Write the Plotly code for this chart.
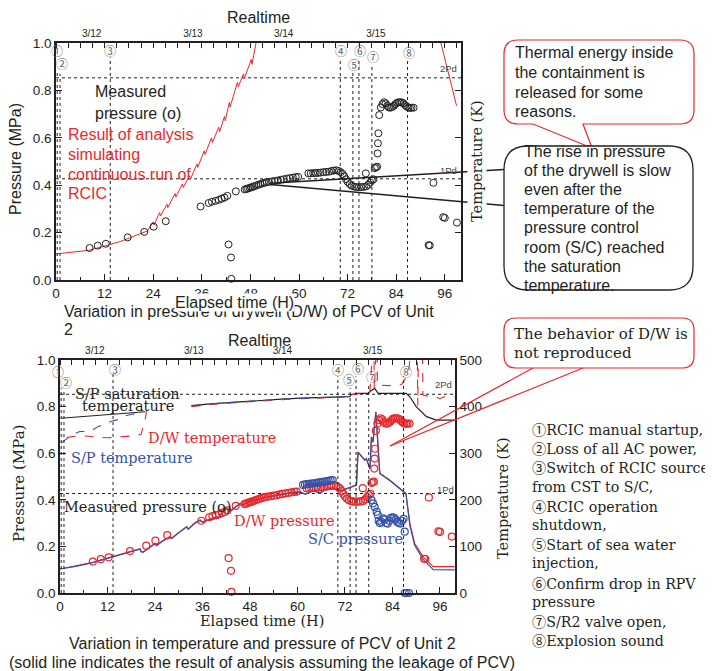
import plotly.graph_objects as go

# page body keeps a default 8px margin, so the figure occupies 8..713 x 8..671
OFF = 8
W, H = 713 - OFF, 671 - OFF


def X(p):
    return (p - OFF) / W


def Y(p):
    return 1 - (p - OFF) / H


RED = "#e8282c"
BLUE = "#3552a8"
INK = "#231f20"
GRAY = "#666666"
SANS = "Liberation Sans, Arial, sans-serif"
SERIF = "DejaVu Serif, serif"
CJK = "Noto Sans CJK JP"
CIRC = "Noto Sans CJK JP, DejaVu Sans, sans-serif"

# ---------------- data ----------------
event_labels = ["①", "②", "③", "④", "⑤", "⑥", "⑦", "⑧"]
event_hours = [0.3, 1.0, 13.4, 70.2, 73.3, 74.8, 78.0, 86.8]
event_tops = [0.88, 0.87, 0.94, 0.93, 0.88, 0.93, 0.9, 0.93]
pd_levels = [0.427, 0.853]
pd_labels = ["1Pd", "2Pd"]
date_labels = ["3/12", "3/13", "3/14", "3/15"]
date_hours = [8.8, 33.8, 56.2, 79.0]
elapsed_ticks = [0, 12, 24, 36, 48, 60, 72, 84, 96]
pressure_ticks = [0, 0.2, 0.4, 0.6, 0.8, 1.0]
temp_ticks = [0, 100, 200, 300, 400, 500]

# analysis: continuous RCIC run (top chart)
rcic_h = [0, 4, 8, 12, 16, 20, 22.6, 24.0, 24.2, 25.6, 25.8, 27.4, 27.6, 29.4, 29.6, 31.2, 31.4,
          33.0, 33.2, 34.8, 35.0, 36.6, 36.8, 38.4, 38.6, 40.2, 40.4, 41.6, 41.8, 42.8, 43.0,
          44.8, 45.0, 46.3, 46.5, 48.2, 48.4, 49.6, None, 94.9, 98.9]
rcic_p = [0.11, 0.117, 0.125, 0.143, 0.163, 0.19, 0.207, 0.245, 0.232, 0.285, 0.27, 0.32, 0.305,
          0.365, 0.35, 0.405, 0.39, 0.44, 0.425, 0.49, 0.475, 0.545, 0.53, 0.6, 0.58, 0.645, 0.625,
          0.69, 0.672, 0.75, 0.73, 0.835, 0.815, 0.87, 0.85, 0.93, 0.91, 1.02, None, 1.01, 0.735]

# measured D/W pressure
dw_h = [8.3, 10.3, 12.3, 17.7, 21.8, 24.1, 27.1, 35.7, 37.7, 38.5,
        39.4, 40.2, 40.9, 41.6, 42.3, 42.6, 43.2, 43.3, 44.4, 46.6,
        47.0, 47.4, 47.8, 48.2, 48.6, 49.0, 49.5, 50.0, 50.5, 51.0,
        51.5, 52.0, 52.6, 53.3, 54.0, 54.8, 55.5, 56.2, 57.0, 57.8,
        58.5, 59.2, 59.8, 62.3, 62.9, 63.5, 64.1, 64.7, 65.3, 66.0,
        66.7, 67.4, 68.0, 68.6, 69.2, 69.8, 70.3, 70.8, 71.2, 71.6,
        72.0, 72.5, 73.0, 73.6, 74.2, 74.8, 75.4, 76.0, 76.5, 76.6,
        77.1, 77.6, 78.0, 78.4, 78.7, 79.0, 79.3, 79.4, 79.5, 79.6,
        79.8, 80.2, 80.6, 81.0, 81.4, 81.8, 82.2, 82.6, 83.0, 83.4,
        83.8, 84.2, 84.6, 85.0, 85.4, 85.8, 86.2, 86.6, 87.0, 87.4,
        87.8, 88.3, 92.0, 92.3, 93.2, 95.6, 96.0, 99.0]
dw_p = [0.135, 0.145, 0.153, 0.18, 0.203, 0.225, 0.248, 0.31, 0.325, 0.33,
        0.334, 0.338, 0.343, 0.348, 0.355, 0.15, 0.095, 0.005, 0.374, 0.382,
        0.384, 0.386, 0.389, 0.391, 0.393, 0.396, 0.399, 0.402, 0.405, 0.408,
        0.41, 0.413, 0.414, 0.416, 0.418, 0.42, 0.423, 0.425, 0.428, 0.43,
        0.432, 0.434, 0.435, 0.45, 0.45, 0.451, 0.451, 0.452, 0.453, 0.455,
        0.456, 0.457, 0.46, 0.462, 0.463, 0.46, 0.455, 0.447, 0.437, 0.425,
        0.414, 0.405, 0.398, 0.394, 0.392, 0.392, 0.392, 0.393, 0.45, 0.395,
        0.402, 0.412, 0.42, 0.425, 0.472, 0.476, 0.478, 0.534, 0.577, 0.619,
        0.696, 0.728, 0.742, 0.75, 0.745, 0.735, 0.728, 0.727, 0.73, 0.735,
        0.742, 0.748, 0.75, 0.75, 0.749, 0.745, 0.738, 0.732, 0.728, 0.726,
        0.727, 0.727, 0.147, 0.146, 0.41, 0.265, 0.262, 0.242]

# measured S/C pressure
sc_h = [61.4, 61.9, 62.4, 62.9, 63.4, 63.9, 64.4, 64.9, 65.4, 65.9, 66.4, 66.9, 67.4, 67.9,
        68.4, 68.9, 78.7, 79.1, 79.5, 80.0, 80.3, 80.5, 80.8, 81.2, 81.6, 82.0, 82.4, 82.8,
        83.2, 83.6, 84.0, 84.4, 84.8, 85.2, 85.6, 86.0, 86.4, 86.8, 87.1, 87.1, 87.6, 88.2]
sc_p = [0.464, 0.466, 0.467, 0.468, 0.469, 0.47, 0.472, 0.473, 0.475, 0.476, 0.477, 0.478, 0.48,
        0.481, 0.483, 0.485, 0.399, 0.385, 0.37, 0.349, 0.335, 0.31, 0.3, 0.305, 0.32, 0.315,
        0.3, 0.298, 0.31, 0.322, 0.325, 0.322, 0.315, 0.305, 0.3, 0.298, 0.31, 0.318, 0.263,
        0.0, 0.0, 0.0]

# analysis assuming PCV leakage (bottom chart)
ana_h = [0, 4, 8, 12, 16, 18, 20.2, 20.5, 21.0, 22.5, 24.0, 24.4, 26.0, 27.8, 28.2, 30.0, 32.0,
         32.4, 34.0, 35.4, 36.0, 38.0, 39.6, 40.0, 41.0, 42.1, 43.0, 45.5, 46.0, 48.0, 50.0, 52.2,
         54.0, 56.0, 58.0, 60.6, 62.0, 64.0, 65.7, 67.0, 69.0, 71.0, 73.2, 74.9, 75.3, 76.2, 77.0,
         77.4, 78.3, 78.7, 79.1, 79.8, 80.8, 83.3, 85.9, 87.4, 88.4, 89.6, 91.7, 94.3, 99.7]
ana_dw = [0.103, 0.115, 0.13, 0.15, 0.17, 0.178, 0.19, 0.178, 0.176, 0.195,
          0.213, 0.205, 0.225, 0.242, 0.235, 0.26, 0.285, 0.275, 0.3, 0.313,
          0.305, 0.318, 0.328, 0.322, 0.345, 0.364, 0.352, 0.385, 0.378, 0.395,
          0.405, 0.413, 0.418, 0.425, 0.43, 0.435, 0.425, 0.44, 0.43, 0.445,
          0.449, 0.44, 0.452, 0.464, 0.606, 0.585, 0.571, 0.578, 0.535, 0.671,
          0.649, 0.778, 0.514, 0.485, 0.449, 0.428, 0.299, 0.213, 0.156, 0.113, 0.113]
ana_sc = [0.103, 0.114, 0.129, 0.149, 0.168, 0.176, 0.188, 0.176, 0.175, 0.193,
          0.211, 0.203, 0.223, 0.24, 0.233, 0.258, 0.283, 0.273, 0.298, 0.311,
          0.303, 0.316, 0.326, 0.32, 0.343, 0.362, 0.35, 0.383, 0.376, 0.393,
          0.403, 0.411, 0.416, 0.423, 0.428, 0.433, 0.423, 0.438, 0.428, 0.443,
          0.447, 0.438, 0.45, 0.462, 0.604, 0.583, 0.569, 0.576, 0.533, 0.669,
          0.647, 0.776, 0.512, 0.483, 0.447, 0.426, 0.29, 0.205, 0.145, 0.1, 0.099]

# temperatures (K)
sat_h = [0.2, 5, 10, 15, 21.5, None, 33.2, 38, 45.5, 50, 56, 60.6, 66, 70, 73.2, 73.6, 75.3,
         77.9, 78.4, 79.5, 80.4, 84, 87.5, 88.5, 90, 92.6, 95.1, 99.7]
sat_t = [375, 378, 381, 385, 389, None, 402, 406, 410, 413, 416, 418, 419, 420, 421.5, 426,
         428.5, 428.5, 433, 439, 428.5, 428.5, 428.5, 420, 400, 378.5, 371, 371]
dwt_h = [1.7, 3.0, 4.5, 6.0, 8.0, 10.0, 12.0, 14.0, 16.0, 18.0, 19.4, 20.5, 21.5, 21.9, None,
         33.2, 38, 45.5, 50, 56, 60.6, 66, 70, 73.2, 73.6, 75.3, 77.9, 78.3, 79.3, 79.4, 80.1,
         80.2, 81.2, 83.0, 85.0, 86.3, 88.0, 89.2, 90.2, 90.4, 90.6, 91.5, 91.7, 92.6, 95.0,
         96.0, 97.0, 99.7]
dwt_t = [334, 336, 337, 337, 336, 335, 333, 334, 335, 336, 338, 341, 372, 392, None,
         400, 404.5, 409, 412, 415, 417, 418, 419, 420.5, 425, 427.5, 427.5, 432, 560, 436, 560,
         446, 446, 445, 446, 448, 470, 560, 560, 402, 560, 560, 425, 423, 421,
         417, 421, 420]
spt_h = [0.2, 1.5, 3.0, 5.0, 7.6, 9.7, 11.0, 13.0, 14.5, 16.0, 18.1, 20.2, None,
         33.5, 40, 48, 56, 64, 70, 74]
spt_t = [321.5, 330, 339, 346.5, 346.5, 357.5, 361, 368.5, 372, 379, 383.5, 386, None,
         402, 407, 411.5, 416, 418.5, 420, 422]

legend_items = ["RCIC manual startup,", "Loss of all AC power,", "Switch of RCIC source",
                "from CST to S/C,", "RCIC operation", "shutdown,", "Start of sea water",
                "injection,", "Confirm drop in RPV", "pressure", "S/R2 valve open,",
                "Explosion sound"]
legend_marks = ["①", "②", "③", "", "④", "", "⑤", "", "⑥", "", "⑦", "⑧"]

# ---------------- figure ----------------
fig = go.Figure()

# event marker lines (dotted verticals), drawn on the realtime axes
ev_x, ev_y = [], []
for h, top in zip(event_hours, event_tops):
    ev_x += [h, h, None]
    ev_y += [0, top, None]
dot = dict(color=INK, width=1, dash="dot")
fig.add_trace(go.Scatter(x=ev_x, y=ev_y, mode="lines", line=dot, xaxis="x2", yaxis="y",
                         hoverinfo="skip"))
fig.add_trace(go.Scatter(x=ev_x, y=ev_y, mode="lines", line=dot, xaxis="x4", yaxis="y3",
                         hoverinfo="skip"))

fig.add_trace(go.Scatter(x=rcic_h, y=rcic_p, mode="lines", line=dict(color=RED, width=1),
                         xaxis="x", yaxis="y", hoverinfo="skip"))
fig.add_trace(go.Scatter(x=dw_h, y=dw_p, mode="markers", xaxis="x", yaxis="y", cliponaxis=False,
                         marker=dict(symbol="circle-open", size=7, color=INK, line=dict(width=1))))

fig.add_trace(go.Scatter(x=sat_h, y=sat_t, mode="lines", line=dict(color=INK, width=1.2),
                         xaxis="x3", yaxis="y4"))
fig.add_trace(go.Scatter(x=dwt_h, y=dwt_t, mode="lines", line=dict(color=RED, width=1.1, dash="dash"),
                         xaxis="x3", yaxis="y4"))
fig.add_trace(go.Scatter(x=spt_h, y=spt_t, mode="lines", line=dict(color=BLUE, width=1.1, dash="dash"),
                         xaxis="x3", yaxis="y4"))
fig.add_trace(go.Scatter(x=ana_h, y=ana_dw, mode="lines", line=dict(color=RED, width=1.2),
                         xaxis="x3", yaxis="y3"))
fig.add_trace(go.Scatter(x=ana_h, y=ana_sc, mode="lines", line=dict(color=BLUE, width=1.2),
                         xaxis="x3", yaxis="y3"))
fig.add_trace(go.Scatter(x=dw_h, y=dw_p, mode="markers", xaxis="x3", yaxis="y3", cliponaxis=False,
                         marker=dict(symbol="circle-open", size=7, color=RED, line=dict(width=1.2))))
fig.add_trace(go.Scatter(x=sc_h, y=sc_p, mode="markers", xaxis="x3", yaxis="y3", cliponaxis=False,
                         marker=dict(symbol="circle-open", size=7, color=BLUE, line=dict(width=1.2))))

tickfont = dict(family=SANS, size=13.5, color=INK)
axline = dict(showline=True, linecolor=INK, linewidth=1.5, showgrid=False, zeroline=False,
              tickcolor=INK, tickwidth=1, automargin=False)


def elapsed_axis(domain, rng, anchor):
    return dict(domain=domain, range=rng, anchor=anchor, tickmode="array", tickvals=elapsed_ticks,
                ticks="inside", ticklen=6, tickfont=tickfont,
                minor=dict(ticks="inside", ticklen=3, tickmode="linear", tick0=0, dtick=6,
                           tickcolor=INK), **axline)


def real_axis(over, rng, anchor):
    return dict(overlaying=over, side="top", anchor=anchor, range=rng, tickmode="array",
                tickvals=date_hours, ticktext=date_labels, ticks="",
                tickfont=dict(family=SANS, size=10, color=INK),
                minor=dict(ticks="inside", ticklen=5, tickmode="linear", tick0=0, dtick=3,
                           tickcolor=INK), **axline)


def press_axis(domain, anchor, mirror):
    return dict(domain=domain, range=[0, 1.0], anchor=anchor, tickmode="array",
                tickvals=pressure_ticks, tickformat=".1f", ticks="inside", ticklen=6,
                tickfont=tickfont, mirror=mirror, **axline)


fig.update_layout(
    template="none",
    width=W, height=H, autosize=False, showlegend=False,
    margin=dict(l=0, r=0, t=0, b=0, pad=0, autoexpand=False),
    paper_bgcolor="white", plot_bgcolor="white",
    xaxis=elapsed_axis([X(56), X(461)], [0, 100], "y"),
    xaxis2=real_axis("x", [0, 100], "y"),
    yaxis=press_axis([Y(280), Y(43)], "x", "ticks"),
    xaxis3=elapsed_axis([X(60), X(455)], [0, 99.8], "y3"),
    xaxis4=real_axis("x3", [0, 99.8], "y3"),
    yaxis3=press_axis([Y(593), Y(360)], "x3", False),
    yaxis4=dict(overlaying="y3", side="right", anchor="x3", range=[0, 500], tickmode="array",
                tickvals=temp_ticks, ticks="inside", ticklen=6, tickfont=tickfont, **axline),
)

shapes = []
for xr, yr in (("x", "y"), ("x3", "y3")):
    for lv in pd_levels:
        shapes.append(dict(type="line", xref=xr + " domain", yref=yr, x0=0, x1=1, y0=lv, y1=lv,
                           layer="below", line=dot))


def P(x, y):
    return f"{X(x):.5f},{Y(y):.5f}"


def callout(x0, y0, x1, y1, r, tail=None):
    s = (f"M {P(x0 + r, y0)} L {P(x1 - r, y0)} Q {P(x1, y0)} {P(x1, y0 + r)} "
         f"L {P(x1, y1 - r)} Q {P(x1, y1)} {P(x1 - r, y1)} ")
    if tail:
        a, tip, b = tail
        s += f"L {P(a, y1)} L {P(*tip)} L {P(b, y1)} "
    s += (f"L {P(x0 + r, y1)} Q {P(x0, y1)} {P(x0, y1 - r)} L {P(x0, y0 + r)} "
          f"Q {P(x0, y0)} {P(x0 + r, y0)} Z")
    return s


def pline(x0, y0, x1, y1, color, width=1.3):
    return dict(type="line", xref="paper", yref="paper", x0=X(x0), y0=Y(y0), x1=X(x1), y1=Y(y1),
                layer="above", line=dict(color=color, width=width))


shapes.append(pline(270, 183.3, 504, 169.5, INK, 1.4))
shapes.append(pline(270, 184.5, 504, 205.5, INK, 1.4))
shapes.append(dict(type="path", xref="paper", yref="paper", layer="above",
                   path=callout(504, 40, 694, 124, 14, (583, (592, 148), 533)),
                   fillcolor="white", line=dict(color=RED, width=1.2)))
shapes.append(dict(type="path", xref="paper", yref="paper", layer="above",
                   path=callout(504, 146, 693, 290, 24),
                   fillcolor="rgba(255,255,255,0.95)", line=dict(color=INK, width=1.3)))
shapes.append(dict(type="path", xref="paper", yref="paper", layer="above",
                   path=callout(504, 318, 694, 368, 12),
                   fillcolor="white", line=dict(color=RED, width=1.2)))
shapes.append(pline(533, 368, 390, 446, RED, 1.2))
shapes.append(pline(583, 368, 390, 446, RED, 1.2))

ann = []


def T(x, y, s, size, color=INK, family=SANS, xa="left", ya="middle", **kw):
    ann.append(dict(x=X(x), y=Y(y), xref="paper", yref="paper", text=s, showarrow=False,
                    xanchor=xa, yanchor=ya, font=dict(size=size, color=color, family=family), **kw))


# ----- top chart texts -----
T(258, 18, "Realtime", 16, xa="center")
T(62, 312, "Variation in pressure of drywell (D/W) of PCV of Unit", 16)
T(62, 329, "2", 16)
T(234, 302, "Elapsed time (H)", 16, xa="center", bgcolor="white", borderpad=0)
T(16, 159, "Pressure (MPa)", 16, xa="center", textangle=-90)
T(477, 161, "Temperature (K)", 14.5, family=SERIF, xa="center", textangle=-90,
  bgcolor="white", borderpad=1)
for i, s in enumerate(["Measured", "pressure (o)"]):
    T(93, 91 + 22 * i, s, 16)
for i, s in enumerate(["Result of analysis", "simulating", "continuous run of", "RCIC"]):
    T(66, 135 + 19.5 * i, s, 16, color=RED)
T(438, 68, "2Pd", 9.5, color="#444")
T(438, 170, "1Pd", 9.5, color="#444")
top_circ = [(57, 50), (62, 63), (110, 50), (341, 51), (354, 64), (360, 51), (373, 57), (409, 53)]
for lab, (cx, cy) in zip(event_labels, top_circ):
    T(cx, cy, lab, 12, color=GRAY, family=CIRC, xa="center")

# ----- callout texts -----
for i, s in enumerate(["Thermal energy inside", "the containment is", "released for some", "reasons."]):
    T(513, 53 + 19.5 * i, s, 16)
for i, s in enumerate(["The rise in pressure", "of the drywell is slow", "even after the",
                       "temperature of the", "pressure control", "room (S/C) reached",
                       "the saturation", "temperature."]):
    T(522, 151 + 19.2 * i, s, 16)
for i, s in enumerate(["The behavior of D/W is", "not reproduced"]):
    T(512, 334 + 19 * i, s, 15, family=SERIF)

# ----- bottom chart texts -----
T(259, 340, "Realtime", 16, xa="center")
T(73, 394, "S/P saturation", 14.5, family=SERIF)
T(80, 406, "temperature", 14.5, family=SERIF)
T(146, 438, "D/W temperature", 14.5, color=RED, family=SERIF)
T(69, 458, "S/P temperature", 14.5, color=BLUE, family=SERIF)
T(62, 507, "Measured pressure (o)", 14.5, family=SERIF)
T(232, 521, "D/W pressure", 14.5, color=RED, family=SERIF)
T(306, 539, "S/C pressure", 14.5, color=BLUE, family=SERIF)
T(262, 621, "Elapsed time (H)", 14.5, family=SERIF, xa="center")
T(19, 484, "Pressure (MPa)", 15, family=SERIF, xa="center", textangle=-90)
T(503, 498, "Temperature (K)", 14.5, family=SERIF, xa="center", textangle=-90)
T(433, 384, "2Pd", 9.5, color="#444")
T(435, 489, "1Pd", 9.5, color="#444")
T(262, 643, "Variation in temperature and pressure of PCV of Unit 2", 16, xa="center")
T(262, 662, "(solid line indicates the result of analysis assuming the leakage of PCV)", 16,
  xa="center")
bot_circ = [(58, 371), (66, 382), (115, 370), (338, 370), (349, 379), (358, 368), (372, 376), (406, 371)]
for lab, (cx, cy) in zip(event_labels, bot_circ):
    T(cx, cy, lab, 12, color=GRAY, family=CIRC, xa="center")

for i, (mark, s) in enumerate(zip(legend_marks, legend_items)):
    txt = (f"<span style=\"font-family:'{CJK}'\">{mark}</span>" if mark else "") + s
    T(530, 429 + 19.2 * i, txt, 14.2, family=SERIF)

fig.update_layout(shapes=shapes, annotations=ann)
fig.write_html("out.html")
